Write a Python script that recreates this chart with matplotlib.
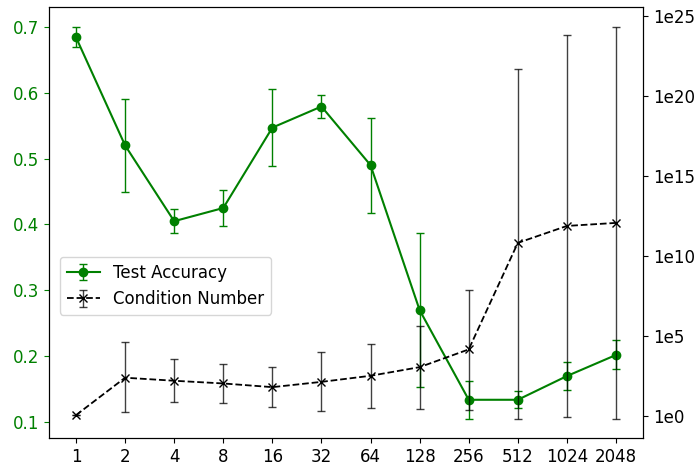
import numpy as np
import matplotlib
matplotlib.use('Agg')
import matplotlib.pyplot as plt
from matplotlib.ticker import FixedLocator, FuncFormatter, NullLocator

# categories on the x axis
sizes = ['1', '2', '4', '8', '16', '32', '64', '128', '256', '512', '1024', '2048']

# test accuracy (mean and +/- error)
acc = [0.684, 0.520, 0.405, 0.425, 0.547, 0.579, 0.490, 0.270, 0.134, 0.134, 0.170, 0.202]
acc_err = [0.015, 0.070, 0.018, 0.028, 0.059, 0.018, 0.072, 0.117, 0.029, 0.013, 0.021, 0.022]

# condition number, read as log10 of centre, lower and upper bar ends
cond_log = [0.04, 2.38, 2.19, 2.02, 1.79, 2.12, 2.50, 3.04, 4.15, 10.81, 11.87, 12.06]
cond_lo_log = [0.04, 0.21, 0.88, 0.81, 0.52, 0.31, 0.50, 0.42, 0.36, -0.19, -0.06, -0.19]
cond_hi_log = [0.04, 4.61, 3.54, 3.25, 3.06, 3.98, 4.46, 5.62, 7.87, 21.67, 23.80, 24.29]

cond = 10.0 ** np.array(cond_log)
cond_lo = 10.0 ** np.array(cond_lo_log)
cond_hi = 10.0 ** np.array(cond_hi_log)
cond_err = [cond - cond_lo, cond_hi - cond]

x = np.arange(len(sizes))

fig = plt.figure(figsize=(6.98, 4.66), dpi=100)
ax = fig.add_axes([49 / 698, 28 / 466, 594 / 698, 431 / 466])
ax2 = ax.twinx()

h1 = ax.errorbar(x, acc, yerr=acc_err, color='green', marker='o', markersize=6,
                 capsize=3, elinewidth=1, capthick=1, label='Test Accuracy')
h2 = ax2.errorbar(x, cond, yerr=cond_err, color='black', ls='--', marker='x',
                  markersize=6, linewidth=1.3, capsize=3, elinewidth=1, capthick=1,
                  ecolor=(0, 0, 0, 0.75), label='Condition Number')

ax.set_xticks(x)
ax.set_xticklabels(sizes)
ax.set_ylim(0.076, 0.73)
ax.set_yticks([0.1, 0.2, 0.3, 0.4, 0.5, 0.6, 0.7])
ax.tick_params(axis='y', colors='green', labelsize=12)
ax.tick_params(axis='x', labelsize=12)

ax2.set_yscale('log')
ax2.set_ylim(10 ** -1.39, 10 ** 25.56)
ax2.yaxis.set_major_locator(FixedLocator([10.0 ** k for k in range(0, 26, 5)]))
ax2.yaxis.set_minor_locator(NullLocator())
ax2.yaxis.set_major_formatter(FuncFormatter(lambda v, p: '1e%d' % round(np.log10(v))))
ax2.tick_params(axis='y', labelsize=12)

ax2.legend([h1, h2], ['Test Accuracy', 'Condition Number'], loc='upper left',
           bbox_to_anchor=(11 / 594, 181 / 431), borderaxespad=0, fontsize=12)

fig.savefig('out.png', dpi=100)
